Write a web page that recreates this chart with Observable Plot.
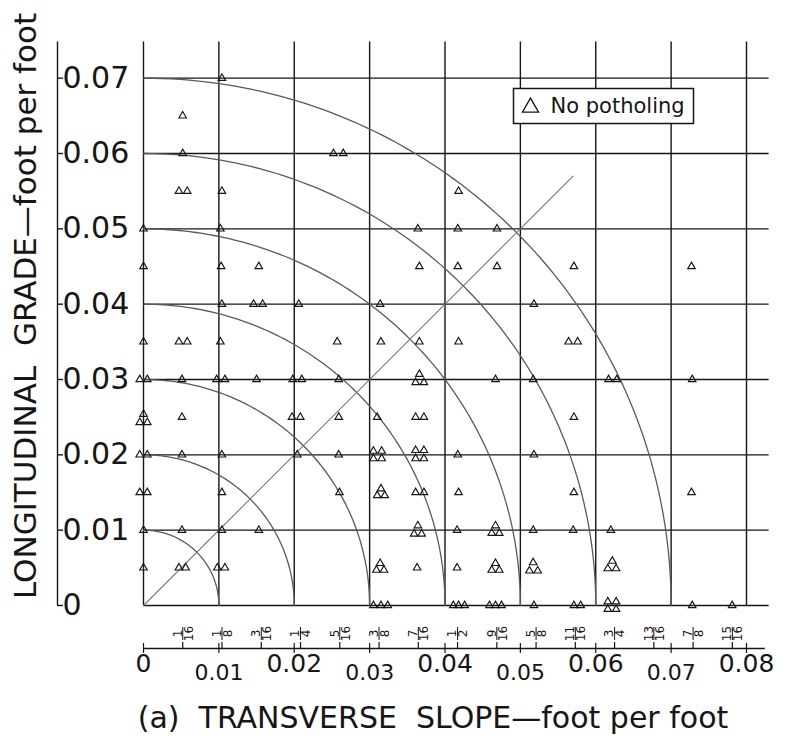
<!DOCTYPE html>
<html><head><meta charset="utf-8">
<script src="https://cdn.jsdelivr.net/npm/d3@7"></script>
<script src="https://cdn.jsdelivr.net/npm/@observablehq/plot@0.6"></script>
<style>body{margin:0;background:#fff} svg{display:block}</style>
</head><body><div id="chart"></div>
<script>
// Transverse slope (ft/ft) of each "no potholing" observation
const slope = [
  0,0,0,-0.0005,0.0005,0,-0.0005,0.0005,-0.0005,0.0005,-0.0005,0.0005,0,0,
  0.0052,0.0052,0.0047,0.0058,0.0047,0.0058,0.0051,0.0051,0.0051,0.0051,0.0047,0.0056,
  0.0104,0.0104,0.0102,0.0103,0.0104,0.0102,0.0097,0.0108,0.0104,0.0104,0.0104,0.0098,0.0108,
  0.0153,0.0146,0.0158,0.0150,0.0153,
  0.0206,0.0198,0.0210,0.0197,0.0208,0.0204,
  0.0252,0.0265,0.0257,0.0259,0.0259,0.0259,0.0260,
  0.0314,0.0315,0.0310,0.0305,0.0316,0.0305,0.0316,0.0315,0.0310,0.0320,0.0314,0.0309,0.0319,0.0305,0.0315,0.0324,
  0.0364,0.0366,0.0366,0.0366,0.0361,0.0372,0.0361,0.0372,0.0361,0.0372,0.0361,0.0372,0.0361,0.0372,0.0364,0.0359,0.0369,0.0363,
  0.0418,0.0417,0.0417,0.0418,0.0417,0.0418,0.0416,0.0416,0.0411,0.0418,0.0426,
  0.0469,0.0469,0.0467,0.0467,0.0462,0.0472,0.0467,0.0462,0.0472,0.0459,0.0467,0.0475,
  0.0518,0.0517,0.0518,0.0517,0.0517,0.0512,0.0523,0.0518,
  0.0571,0.0564,0.0576,0.0571,0.0571,0.0570,0.0571,0.0580,
  0.0617,0.0628,0.0620,0.0622,0.0616,0.0627,0.0616,0.0627,0.0616,0.0627,
  0.0727,0.0728,0.0727,0.0728,
  0.0781
];
// Longitudinal grade (ft/ft) of each observation
const grade = [
  0.05,0.045,0.035,0.03,0.03,0.0254,0.0243,0.0243,0.02,0.02,0.015,0.015,0.01,0.005,
  0.065,0.06,0.055,0.055,0.035,0.035,0.03,0.025,0.02,0.01,0.005,0.005,
  0.07,0.055,0.05,0.045,0.04,0.035,0.03,0.03,0.02,0.015,0.01,0.005,0.005,
  0.045,0.04,0.04,0.03,0.01,
  0.04,0.03,0.03,0.025,0.025,0.02,
  0.06,0.06,0.035,0.03,0.025,0.02,0.015,
  0.04,0.035,0.025,0.0205,0.0205,0.0195,0.0195,0.0155,0.0146,0.0146,0.0056,0.0047,0.0047,0,0,0,
  0.05,0.045,0.035,0.0307,0.0296,0.0296,0.025,0.025,0.0206,0.0206,0.0195,0.0195,0.015,0.015,0.0106,0.0095,0.0095,0.005,
  0.055,0.05,0.045,0.035,0.02,0.015,0.01,0.005,0,0,0,
  0.05,0.045,0.03,0.0106,0.0096,0.0096,0.0056,0.0047,0.0047,0,0,0,
  0.04,0.03,0.02,0.01,0.0057,0.0046,0.0046,0,
  0.045,0.035,0.035,0.025,0.015,0.01,0,0,
  0.03,0.03,0.01,0.0059,0.0049,0.0049,0.0005,0.0005,-0.0005,-0.0005,
  0.045,0.03,0.015,0,
  0
];
const gridX = [0,0.01,0.02,0.03,0.04,0.05,0.06,0.07,0.08];
const gridY = [0,0.01,0.02,0.03,0.04,0.05,0.06,0.07];
const xTickLabels = ["0","0.01","0.02","0.03","0.04","0.05","0.06","0.07","0.08"];
const yTickLabels = ["0","0.01","0.02","0.03","0.04","0.05","0.06","0.07"];
const arcRadii = [0.01,0.02,0.03,0.04,0.05,0.06,0.07];
const diagonalEnd = 0.057;
const fracNum = [1,1,3,1,5,3,7,1,9,5,11,3,13,7,15];
const fracDen = [16,8,16,4,16,8,16,2,16,8,16,4,16,8,16];
const legendLabel = "No potholing";
const xTitle = "(a)\u00a0 TRANSVERSE\u00a0 SLOPE\u2014foot per foot";
const yTitle = "LONGITUDINAL\u00a0 GRADE\u2014foot per foot";

const points = slope.map((s, i) => ({slope: s, grade: grade[i]}));
const arcs = arcRadii.flatMap(r => d3.range(0, 91).map(a => ({r, x: r*Math.cos(a*Math.PI/180), y: r*Math.sin(a*Math.PI/180)})));
const fracs = fracNum.map((n, i) => ({num: String(n), den: String(fracDen[i]), v: n / fracDen[i] / 12}));
const evenX = gridX.filter((d, i) => i % 2 === 0);
const oddX = gridX.filter((d, i) => i % 2 === 1);
const xLab = d => xTickLabels[gridX.indexOf(d)];
const blank = () => "";
const ink = "#161616";

const plot = Plot.plot({
  width: 787, height: 746,
  marginLeft: 143, marginRight: 41, marginTop: 40, marginBottom: 141,
  x: {domain: [0, 0.08], axis: null},
  y: {domain: [0, 0.075], axis: null},
  style: {fontFamily: "'DejaVu Sans', sans-serif", color: ink, background: "white", overflow: "visible"},
  marks: [
    Plot.ruleY(gridY, {x1: 0, x2: 0.083, stroke: ink, strokeWidth: 1.4}),
    Plot.ruleX(gridX, {y1: 0, y2: 0.0748, stroke: ink, strokeWidth: 1.4}),
    Plot.line(arcs, {x: "x", y: "y", z: "r", stroke: "#5a5a5a", strokeWidth: 1.3}),
    Plot.line([0, diagonalEnd], {x: d => d, y: d => d, stroke: "#777", strokeWidth: 1.1}),
    Plot.dot(points, {x: "slope", y: "grade", symbol: "triangle", r: 2.8, stroke: ink, strokeWidth: 1.15, fill: "none"}),
    // left axis
    Plot.ruleX([0], {y1: 0, y2: 0.0748, dx: -86, stroke: ink, strokeWidth: 1.4}),
    Plot.axisY(gridY, {anchor: "left", tickSize: -6, dx: -86, textAnchor: "start", tickPadding: 1, fontSize: 30, tickFormat: d => yTickLabels[gridY.indexOf(d)], label: null, stroke: ink, strokeWidth: 1.4}),
    // bottom axis
    Plot.ruleY([0], {x1: 0, x2: 0.0825, dy: 43, stroke: ink, strokeWidth: 1.4}),
    Plot.axisX(fracs.map(f => f.v), {anchor: "bottom", tickSize: -6, dy: 43, tickFormat: blank, label: null, strokeWidth: 1.2}),
    Plot.axisX(gridX, {anchor: "bottom", tickSize: 10, dy: 38, tickFormat: blank, label: null, strokeWidth: 1.2}),
    Plot.axisX(fracs.map(f => f.v), {anchor: "bottom", tickSize: 13, dy: 22, tickFormat: blank, label: null, strokeWidth: 1}),
    Plot.text(fracs, {x: "v", frameAnchor: "bottom", dy: 28, dx: -5, rotate: -90, text: "num", fontSize: 12, lineAnchor: "middle"}),
    Plot.text(fracs, {x: "v", frameAnchor: "bottom", dy: 28, dx: 6, rotate: -90, text: "den", fontSize: 12, lineAnchor: "middle"}),
    Plot.text(evenX, {x: d => d, frameAnchor: "bottom", dy: 58, text: xLab, fontSize: 25, lineAnchor: "middle"}),
    Plot.text(oddX, {x: d => d, frameAnchor: "bottom", dy: 67, text: xLab, fontSize: 22, lineAnchor: "middle"}),
    // titles
    Plot.text([xTitle], {frameAnchor: "bottom", dx: -12, dy: 113, text: d => d, fontSize: 30, textAnchor: "middle", lineAnchor: "middle"}),
    Plot.text([yTitle], {frameAnchor: "left", dx: -117, dy: -17, rotate: -90, text: d => d, fontSize: 31, textAnchor: "middle", lineAnchor: "middle"}),
    // legend
    Plot.frame({insetLeft: 370, insetTop: 48, insetRight: 53, insetBottom: 482, fill: "white", stroke: ink, strokeWidth: 1.5}),
    Plot.dot([legendLabel], {frameAnchor: "top-left", dx: 387, dy: 67, symbol: "triangle", r: 6, stroke: ink, strokeWidth: 1.3, fill: "none"}),
    Plot.text([legendLabel], {frameAnchor: "top-left", dx: 407, dy: 66, text: d => d, textAnchor: "start", fontSize: 21, lineAnchor: "middle"})
  ]
});
document.getElementById("chart").appendChild(plot);
</script>
</body></html>
